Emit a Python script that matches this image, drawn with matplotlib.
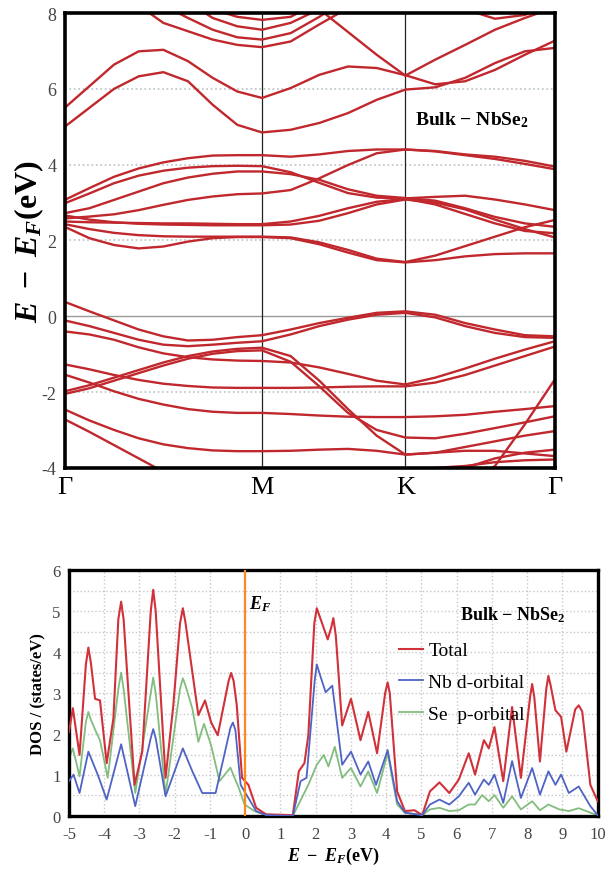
import numpy as np
import matplotlib
matplotlib.use("Agg")
import matplotlib.pyplot as plt

# ---- dados: estrutura de bandas (19 pontos k: Γ..M = 0..8, M..K = 8..13, K..Γ = 13..18)
k_labels = ["Γ", "M", "K", "Γ"]

band_u1 = [5.00, 5.50, 6.00, 6.33, 6.44, 6.20, 5.58, 5.05, 4.85, 4.92, 5.10, 5.36, 5.71, 5.98, 6.04, 6.29, 6.68, 6.99, 7.08]
band_u2 = [5.50, 6.07, 6.64, 6.99, 7.03, 6.73, 6.29, 5.93, 5.76, 6.02, 6.37, 6.59, 6.55, 6.36, 6.12, 6.20, 6.50, 6.90, 7.27]
band_u3 = [9.50, 9.40, 9.20, 9.00, 8.90, 8.80, 8.70, 8.60, 8.50, 8.40, 8.10, 7.50, 6.90, 6.35, 6.77, 7.16, 7.56, 7.87, 8.15]
band_u4 = [9.50, 9.20, 8.80, 8.20, 7.74, 7.52, 7.30, 7.16, 7.10, 7.25, 7.70, 8.13, 8.50, 8.80, 9.00, 9.00, 9.00, 9.00, 9.00]
band_u5 = [9.80, 9.50, 9.10, 8.70, 8.20, 7.87, 7.56, 7.36, 7.30, 7.47, 7.90, 8.40, 8.80, 9.00, 9.20, 9.20, 9.20, 9.20, 9.20]
band_u6 = [10.0, 9.80, 9.50, 9.10, 8.70, 8.30, 7.87, 7.65, 7.56, 7.74, 8.10, 8.60, 9.00, 9.20, 9.40, 9.40, 9.40, 9.40, 9.40]
band_u7 = [10.2, 10.0, 9.80, 9.50, 9.00, 8.60, 8.10, 7.90, 7.82, 7.90, 8.30, 8.80, 9.20, 9.40, 9.60, 9.60, 9.60, 9.60, 9.60]
band_u8 = [9.80, 9.70, 9.60, 9.50, 9.40, 9.30, 9.20, 9.10, 9.00, 9.00, 9.00, 8.95, 8.90, 8.80, 8.50, 8.10, 7.85, 7.95, 8.30]

band_m1 = [3.07, 3.38, 3.68, 3.90, 4.06, 4.17, 4.24, 4.25, 4.25, 4.21, 4.27, 4.36, 4.40, 4.40, 4.36, 4.27, 4.21, 4.10, 3.95]
band_m2 = [2.58, 2.63, 2.69, 2.80, 2.94, 3.07, 3.16, 3.22, 3.24, 3.33, 3.64, 3.99, 4.30, 4.40, 4.35, 4.25, 4.15, 4.02, 3.88]
band_m3 = [2.98, 3.24, 3.51, 3.71, 3.84, 3.92, 3.96, 3.97, 3.96, 3.80, 3.52, 3.25, 3.13, 3.11, 3.15, 3.18, 3.08, 2.95, 2.80]
band_m4 = [2.72, 2.85, 3.07, 3.29, 3.51, 3.66, 3.76, 3.82, 3.82, 3.75, 3.60, 3.35, 3.18, 3.12, 3.05, 2.85, 2.62, 2.45, 2.36]
band_m5 = [2.50, 2.48, 2.47, 2.46, 2.45, 2.45, 2.44, 2.43, 2.43, 2.50, 2.65, 2.85, 3.02, 3.10, 2.95, 2.70, 2.45, 2.25, 2.19]
band_m6 = [2.66, 2.55, 2.48, 2.44, 2.42, 2.41, 2.40, 2.40, 2.40, 2.42, 2.52, 2.72, 2.95, 3.08, 3.00, 2.82, 2.55, 2.30, 2.08]
band_m7 = [2.43, 2.30, 2.20, 2.14, 2.11, 2.10, 2.10, 2.10, 2.10, 2.08, 1.95, 1.75, 1.52, 1.43, 1.60, 1.85, 2.10, 2.35, 2.54]
band_m8 = [2.36, 2.06, 1.88, 1.79, 1.84, 1.97, 2.06, 2.09, 2.09, 2.06, 1.90, 1.68, 1.48, 1.42, 1.48, 1.58, 1.64, 1.66, 1.66]

band_v1 = [0.38, 0.13, -0.11, -0.35, -0.53, -0.64, -0.62, -0.55, -0.50, -0.35, -0.18, -0.04, 0.09, 0.13, 0.04, -0.18, -0.35, -0.50, -0.53]
band_v2 = [-0.11, -0.26, -0.44, -0.62, -0.75, -0.79, -0.75, -0.70, -0.66, -0.48, -0.26, -0.09, 0.04, 0.09, -0.03, -0.26, -0.44, -0.55, -0.57]
band_v3 = [-0.40, -0.48, -0.62, -0.82, -0.98, -1.08, -1.14, -1.17, -1.18, -1.22, -1.35, -1.52, -1.70, -1.80, -1.62, -1.38, -1.12, -0.88, -0.66]
band_v4 = [-1.98, -1.82, -1.62, -1.42, -1.22, -1.05, -0.93, -0.86, -0.83, -1.05, -1.70, -2.45, -3.15, -3.65, -3.60, -3.45, -3.30, -3.15, -3.03]
band_v5 = [-1.27, -1.40, -1.55, -1.68, -1.78, -1.84, -1.88, -1.89, -1.89, -1.89, -1.88, -1.86, -1.85, -1.85, -1.75, -1.55, -1.30, -1.05, -0.80]
band_v6 = [-1.54, -1.75, -1.98, -2.18, -2.33, -2.45, -2.52, -2.55, -2.55, -2.58, -2.62, -2.65, -2.66, -2.66, -2.64, -2.60, -2.52, -2.45, -2.37]
band_v7 = [-2.46, -2.75, -3.00, -3.22, -3.38, -3.48, -3.54, -3.56, -3.56, -3.55, -3.52, -3.50, -3.55, -3.65, -3.60, -3.55, -3.55, -3.62, -3.69]
band_v8 = [-2.72, -3.05, -3.40, -3.75, -4.10, -4.40, -4.60, -4.70, -4.70, -4.60, -4.45, -4.30, -4.15, -4.05, -4.00, -3.95, -3.85, -3.80, -3.78]
band_v9 = [-2.05, -1.90, -1.70, -1.50, -1.30, -1.12, -0.99, -0.92, -0.90, -1.20, -1.85, -2.55, -3.00, -3.20, -3.22, -3.10, -2.95, -2.80, -2.64]
band_v10 = [-5.5, -5.4, -5.3, -5.2, -5.1, -5.0, -5.0, -5.0, -5.0, -5.0, -5.0, -4.9, -4.8, -4.70, -5.00, -4.50, -3.95, -2.85, -1.67]
band_v11 = [-5.0, -5.0, -4.9, -4.8, -4.7, -4.6, -4.6, -4.6, -4.6, -4.6, -4.6, -4.6, -4.55, -4.50, -4.30, -4.00, -3.75, -3.60, -3.52]

bands = [band_u1, band_u2, band_u3, band_u4, band_u5, band_u6, band_u7, band_u8,
         band_m1, band_m2, band_m3, band_m4, band_m5, band_m6, band_m7, band_m8,
         band_v1, band_v2, band_v3, band_v4, band_v5, band_v6, band_v7, band_v8,
         band_v9, band_v10, band_v11]

# ---- dados: densidade de estados
e_total = [-5.00, -4.89, -4.70, -4.52, -4.45, -4.38, -4.26, -4.12, -3.93, -3.74, -3.60, -3.52, -3.45,
           -3.14, -2.92, -2.68, -2.61, -2.54, -2.26, -2.04, -1.85, -1.77, -1.70, -1.55, -1.33, -1.14,
           -0.97, -0.78, -0.47, -0.40, -0.33, -0.24, -0.09, 0.09, 0.31, 0.59, 1.35, 1.52, 1.68, 1.79,
           1.96, 2.03, 2.12, 2.34, 2.44, 2.50, 2.57, 2.75, 3.00, 3.27, 3.49, 3.74, 3.97, 4.04, 4.10,
           4.31, 4.53, 4.80, 5.02, 5.24, 5.51, 5.79, 6.06, 6.34, 6.52, 6.77, 6.91, 7.07, 7.32, 7.57,
           7.82, 8.08, 8.14, 8.20, 8.36, 8.54, 8.60, 8.66, 8.80, 8.96, 9.11, 9.36, 9.46, 9.56, 9.79,
           10.00]
dos_total = [2.05, 2.63, 1.49, 3.70, 4.11, 3.75, 2.86, 2.82, 1.29, 2.38, 4.80, 5.23, 4.80,
             0.76, 1.57, 5.00, 5.52, 5.00, 0.93, 2.70, 4.70, 5.07, 4.75, 3.82, 2.46, 2.82,
             2.29, 1.97, 3.30, 3.49, 3.30, 2.70, 0.93, 0.76, 0.20, 0.04, 0.02, 1.09, 1.29, 1.97,
             4.70, 5.07, 4.85, 4.31, 4.60, 4.83, 4.40, 2.21, 2.86, 1.85, 2.54, 1.53, 3.00, 3.26, 3.00,
             0.60, 0.12, 0.14, 0.02, 0.60, 0.82, 0.56, 0.89, 1.53, 1.01, 1.85, 1.65, 2.17, 0.85, 2.66,
             0.93, 2.90, 3.22, 2.90, 1.33, 3.10, 3.42, 3.20, 2.58, 2.42, 1.57, 2.60, 2.70, 2.55, 0.76,
             0.36]

e_nb = [-5.00, -4.87, -4.70, -4.45, -4.18, -3.93, -3.52, -3.12, -2.68, -2.61, -2.54, -2.26, -1.77,
        -1.50, -1.22, -0.84, -0.42, -0.35, -0.28, -0.13, 0.09, 0.31, 0.59, 1.35, 1.57, 1.74, 1.97,
        2.03, 2.10, 2.28, 2.47, 2.75, 3.00, 3.27, 3.49, 3.71, 4.04, 4.31, 4.53, 5.02, 5.24, 5.51,
        5.79, 6.06, 6.34, 6.52, 6.77, 6.91, 7.07, 7.32, 7.57, 7.82, 8.14, 8.36, 8.60, 8.80, 8.96,
        9.18, 9.46, 9.79, 10.00]
dos_nb = [0.85, 1.01, 0.56, 1.57, 1.00, 0.40, 1.75, 0.24, 1.90, 2.12, 1.90, 0.48, 1.65,
          1.09, 0.56, 0.56, 2.15, 2.28, 2.10, 0.76, 0.44, 0.12, 0.02, 0.00, 0.85, 0.93, 3.30,
          3.70, 3.50, 3.02, 3.18, 1.25, 1.57, 1.01, 1.33, 0.76, 1.61, 0.36, 0.08, 0.02, 0.28, 0.40,
          0.28, 0.48, 0.81, 0.52, 0.89, 0.76, 1.01, 0.32, 1.34, 0.44, 1.17, 0.52, 1.09, 0.76, 1.01,
          0.56, 0.72, 0.24, 0.02]

e_se = [-5.00, -4.89, -4.70, -4.52, -4.45, -4.38, -4.23, -4.12, -3.90, -3.60, -3.52, -3.45, -3.12,
        -2.68, -2.61, -2.54, -2.26, -1.85, -1.77, -1.70, -1.50, -1.33, -1.17, -0.97, -0.73, -0.42,
        -0.18, -0.02, 0.26, 0.59, 1.35, 1.79, 2.03, 2.23, 2.36, 2.54, 2.75, 3.00, 3.27, 3.49, 3.74,
        4.04, 4.31, 4.53, 5.02, 5.24, 5.51, 5.79, 6.06, 6.34, 6.52, 6.72, 6.91, 7.07, 7.32, 7.57,
        7.82, 8.14, 8.36, 8.60, 8.91, 9.18, 9.46, 9.79, 10.00]
dos_se = [1.41, 1.65, 0.97, 2.30, 2.54, 2.35, 2.05, 1.85, 0.93, 3.10, 3.50, 3.10, 0.56,
          3.00, 3.38, 3.00, 0.52, 3.10, 3.36, 3.20, 2.62, 1.81, 2.25, 1.73, 0.85, 1.18,
          0.68, 0.28, 0.12, 0.02, 0.00, 0.76, 1.25, 1.49, 1.21, 1.69, 0.93, 1.17, 0.72, 1.09, 0.56,
          1.53, 0.28, 0.08, 0.02, 0.16, 0.20, 0.12, 0.14, 0.28, 0.28, 0.51, 0.36, 0.51, 0.20, 0.48,
          0.16, 0.36, 0.14, 0.28, 0.16, 0.12, 0.19, 0.08, 0.02]

BAND_COLOR = "#c0282d"
SERIF = "Liberation Serif"

plt.rcParams["font.family"] = SERIF
plt.rcParams["axes.unicode_minus"] = False
plt.rcParams["mathtext.fontset"] = "custom"
plt.rcParams["mathtext.rm"] = "Liberation Serif:bold"
plt.rcParams["mathtext.it"] = "Liberation Serif:italic:bold"
plt.rcParams["mathtext.bf"] = "Liberation Serif:bold"


# Eixo k ao longo do caminho Γ-M-K-Γ
def k_path():
    nodes = [0.0, 0.4025, 0.695, 1.0]
    seg1 = np.linspace(nodes[0], nodes[1], 9)
    seg2 = np.linspace(nodes[1], nodes[2], 6)[1:]
    seg3 = np.linspace(nodes[2], nodes[3], 6)[1:]
    return nodes, np.concatenate([seg1, seg2, seg3])


def draw_bands(ax):
    nodes, k = k_path()
    for yv in [-2, 2, 4, 6]:
        ax.axhline(yv, color="#b8c4c4", ls=":", lw=1.2, zorder=0)
    ax.axhline(0, color="#999999", lw=1.0, zorder=0)
    for xv in nodes[1:3]:
        ax.axvline(xv, color="#222222", lw=0.9, zorder=1)
    for b in bands:
        ax.plot(k, b, color=BAND_COLOR, lw=1.7, zorder=2, solid_joinstyle="round")
    ax.set_xlim(0, 1)
    ax.set_ylim(-4, 8)
    ax.set_xticks(nodes)
    ax.set_xticklabels(k_labels, fontsize=19)
    ax.set_yticks(range(-4, 9, 2))
    ax.tick_params(axis="x", length=0, pad=6)
    ax.tick_params(axis="y", length=0, labelsize=13, labelcolor="#444444", pad=6)
    ax.set_ylabel(r"$E\ -\ E_F$(eV)", fontsize=23, fontweight="bold", labelpad=-3)
    ax.text(0.714, 0.767, r"Bulk $-$ NbSe$_\mathbf{2}$", transform=ax.transAxes,
            fontsize=14, fontweight="bold", va="center")
    for s in ax.spines.values():
        s.set_linewidth(2.6)


def draw_dos(ax):
    for xv in range(-5, 11):
        ax.axvline(xv, color="#c8c8c8", ls=":", lw=1.0, zorder=0)
    for yv in np.arange(0.5, 6.0, 0.5):
        ax.axhline(yv, color="#c8c8c8", ls=":", lw=1.0, zorder=0)
    ax.plot(e_total, dos_total, color="#d0313a", lw=1.5, label="Total", zorder=3, solid_joinstyle="round")
    ax.plot(e_nb, dos_nb, color="#4f63c4", lw=1.3, label="Nb d-orbital", zorder=3, solid_joinstyle="round")
    ax.plot(e_se, dos_se, color="#82bd7e", lw=1.3, label="Se  p-orbital", zorder=2, solid_joinstyle="round")
    ax.axvline(0, color="#ff8a1c", lw=1.6, zorder=4)
    ax.text(0.12, 5.2, r"$E_F$", fontsize=13, va="center")
    ax.text(6.1, 4.93, r"Bulk $-$ NbSe$_\mathbf{2}$", fontsize=13, fontweight="bold", va="center")
    ax.legend(loc="upper left", bbox_to_anchor=(0.61, 0.74), frameon=False, fontsize=14,
              handlelength=1.2, handletextpad=0.3, labelspacing=0.72, borderaxespad=0)
    ax.set_xlim(-5, 10)
    ax.set_ylim(0, 6)
    ax.set_xticks(range(-5, 11))
    ax.set_yticks(range(0, 7))
    ax.tick_params(axis="x", length=0, labelsize=12, labelcolor="#444444", pad=7)
    ax.tick_params(axis="y", length=0, labelsize=12, labelcolor="#444444", pad=6)
    ax.set_xlabel(r"$E\ -\ E_F$(eV)", fontsize=13, fontweight="bold", labelpad=2)
    ax.set_ylabel("DOS / (states/eV)", fontsize=12, fontweight="bold")
    for s in ax.spines.values():
        s.set_linewidth(2.4)


if __name__ == "__main__":
    fig = plt.figure(figsize=(6.05, 8.78), dpi=100)
    ax_band = fig.add_axes([0.107, 0.466, 0.810, 0.518])
    ax_dos = fig.add_axes([0.114, 0.0695, 0.874, 0.280])
    draw_bands(ax_band)
    draw_dos(ax_dos)
    fig.savefig("out.png", dpi=100)
    plt.close(fig)
